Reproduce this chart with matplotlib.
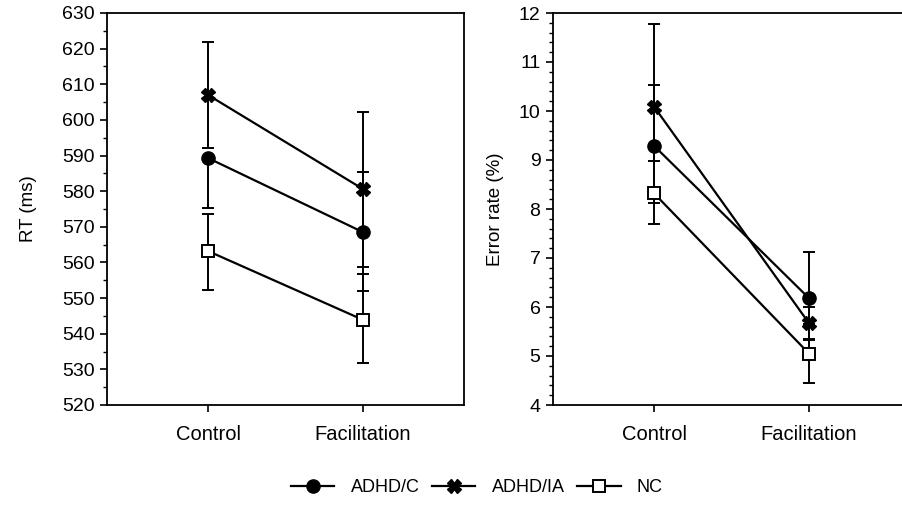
import numpy as np
import matplotlib.pyplot as plt
from matplotlib.ticker import MultipleLocator
from matplotlib.lines import Line2D

plt.rcParams['font.family'] = ['Liberation Sans', 'DejaVu Sans']
plt.rcParams['font.size'] = 13

conditions = ['Control', 'Facilitation']
groups = ['ADHD/C', 'ADHD/IA', 'NC']

# RT (ms)
rt_mean = {'ADHD/C': [589.3, 568.5], 'ADHD/IA': [607.0, 580.6], 'NC': [563.2, 543.9]}
rt_err_lo = {'ADHD/C': [14.0, 16.5], 'ADHD/IA': [15.0, 21.8], 'NC': [11.0, 12.0]}
rt_err_hi = {'ADHD/C': [0.0, 17.0], 'ADHD/IA': [15.0, 21.5], 'NC': [10.3, 13.0]}

# Error rate (%)
er_mean = {'ADHD/C': [9.29, 6.18], 'ADHD/IA': [10.09, 5.67], 'NC': [8.32, 5.05]}
er_err_lo = {'ADHD/C': [1.17, 0.86], 'ADHD/IA': [1.69, 0.33], 'NC': [0.63, 0.61]}
er_err_hi = {'ADHD/C': [1.25, 0.94], 'ADHD/IA': [1.69, 0.33], 'NC': [0.66, 0.61]}

styles = {
    'ADHD/C': dict(marker='o', markersize=9.5, mfc='black', mec='black'),
    'ADHD/IA': dict(marker='X', markersize=10, mfc='black', mec='black'),
    'NC': dict(marker='s', markersize=8.5, mfc='white', mec='black', mew=1.4),
}

fig = plt.figure(figsize=(9.03, 5.16), dpi=100)
ax1 = fig.add_axes([107/903, 1-405/516, 357/903, 392/516])
ax2 = fig.add_axes([553/903, 1-405/516, 357/903, 392/516])

x = np.arange(len(conditions))


def draw(ax, means, lo, hi):
    for g in groups:
        ax.errorbar(x, means[g], yerr=[lo[g], hi[g]], color='black', lw=1.6,
                    elinewidth=1.4, capsize=4, capthick=1.4, zorder=3,
                    **styles[g])
    ax.set_xticks(x)
    ax.set_xticklabels(conditions, fontsize=14.5)
    ax.set_xlim(-0.652, 1.652)
    for s in ax.spines.values():
        s.set_linewidth(1.3)
    ax.tick_params(axis='both', which='major', direction='out', length=5, width=1.2, pad=4)
    ax.tick_params(axis='y', which='major', labelsize=14)
    ax.tick_params(axis='y', which='minor', direction='out', length=3, width=1.0)
    ax.tick_params(axis='x', which='minor', bottom=False)
    ax.tick_params(axis='x', pad=9.5)


draw(ax1, rt_mean, rt_err_lo, rt_err_hi)
ax1.set_ylim(520, 630)
ax1.yaxis.set_major_locator(MultipleLocator(10))
ax1.yaxis.set_minor_locator(MultipleLocator(5))
ax1.set_ylabel('RT (ms)', fontsize=13.5)
ax1.yaxis.set_label_coords(-0.196, 0.5)

draw(ax2, er_mean, er_err_lo, er_err_hi)
ax2.set_ylim(4, 12)
ax2.yaxis.set_major_locator(MultipleLocator(1))
ax2.yaxis.set_minor_locator(MultipleLocator(0.2))
ax2.set_ylabel('Error rate (%)', fontsize=13.5)
ax2.yaxis.set_label_coords(-0.137, 0.5)

handles = [Line2D([], [], color='black', lw=1.6, **styles[g]) for g in groups]
fig.legend(handles, groups, loc='center', bbox_to_anchor=(477/903, 1-488/516),
           ncol=3, frameon=False, fontsize=13, handlelength=2.4,
           columnspacing=0.7, handletextpad=0.9)

fig.savefig('out.png', dpi=100)
